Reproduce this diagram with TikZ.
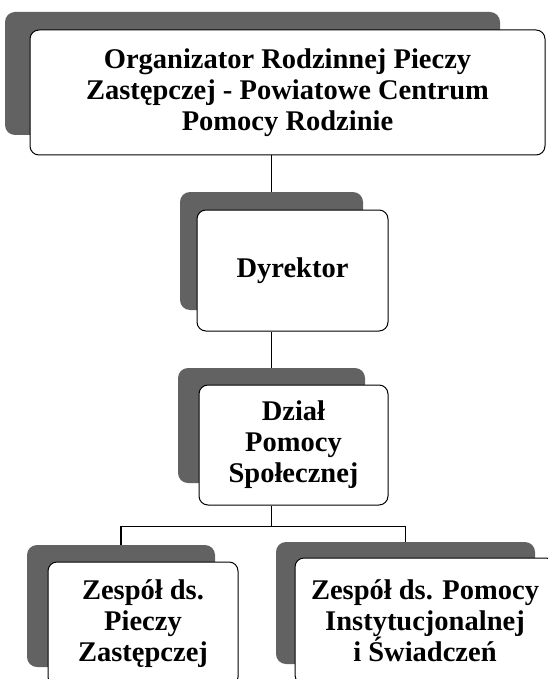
\documentclass[tikz,border=0pt]{standalone}
\usepackage{fontspec}
\setmainfont{Liberation Serif}
\usepackage{xcolor}
\definecolor{shade-grey}{HTML}{626262}
\usepackage{tikz}
\tikzset{box/.style = {draw, rounded corners=9pt, fill=white, align=center, text centered, line width=1pt, inner sep=0pt}}
\tikzset{back/.style = {rounded corners=10pt, fill=shade-grey, inner sep=0pt}}
\tikzset{line/.style = {line width=1.3pt}}

\begin{document}
\begin{tikzpicture}[x=1pt, y=-1pt,
  font=\fontsize{28.5}{31}\selectfont\bfseries
]
\useasboundingbox (0,0) rectangle (548,679);

% shadows first, the white boxes sit on them
\node[back, minimum width=495pt, minimum height=123pt] (s0) at (252.5,73.5) {};
\node[box, minimum width=515pt, minimum height=125pt] (b0) at ([shift={(35,19)}]s0) {
  Organizator Rodzinnej Pieczy\\
  Zastępczej - Powiatowe Centrum\\
  Pomocy Rodzinie
};
\node[back, minimum width=183pt, minimum height=118pt] (s1) at (271.5,251) {};
\node[box, minimum width=191pt, minimum height=121pt] (b1) at ([shift={(21,19.5)}]s1) {Dyrektor};
\node[back, minimum width=187pt, minimum height=115pt] (s2) at (271.5,425.5) {};
\node[box, minimum width=189pt, minimum height=120pt] (b2) at ([shift={(22,19.5)}]s2) {
  Dział\\
  Pomocy\\
  Społecznej
};
\node[back, minimum width=188pt, minimum height=122pt] (s3) at (121,606) {};
\node[box, minimum width=190pt, minimum height=124pt] (b3) at ([shift={(22,18)}]s3) {
  Zespół ds.\\
  Pieczy\\
  Zastępczej
};
\node[back, minimum width=259pt, minimum height=122pt] (s4) at (405.5,603) {};
\node[box, minimum width=260pt, minimum height=126pt] (b4) at ([shift={(19.5,18)}]s4) {
  Zespół ds. Pomocy\\
  Instytucjonalnej\\
  i Świadczeń
};

\draw[line]  (b0.south -| s1.north) -- (s1.north);
\draw[line]  (b1.south -| s2.north) -- (s2.north);
\draw[line]  (b2.south -| s2.north) -- ++ (0,21) -| (s3.north);
\draw[line]  (b2.south -| s2.north) -- ++ (0,21) -| (s4.north);

\end{tikzpicture}
\end{document}
